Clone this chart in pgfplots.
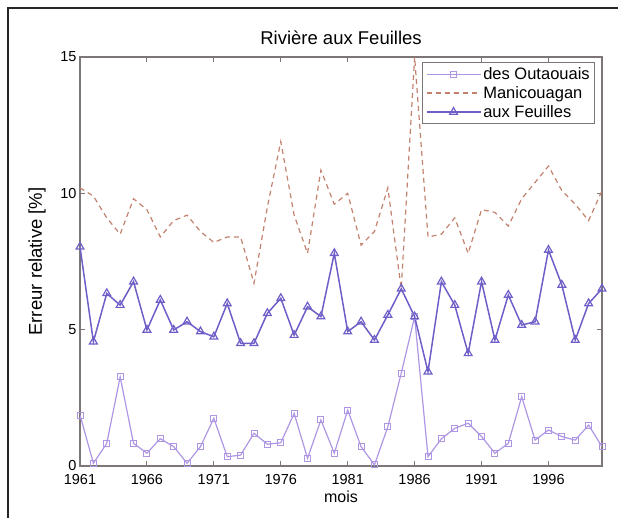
\documentclass[border=0pt]{standalone}
\usepackage{pgfplots}
\pgfplotsset{compat=1.18}
\usepackage{fontspec}
\setmainfont{Liberation Sans}
\definecolor{outa}{RGB}{175,150,228}
\definecolor{mani}{RGB}{195,130,110}
\definecolor{feui}{RGB}{110,95,200}
\definecolor{axgray}{RGB}{125,118,118}
\begin{document}
\begin{tikzpicture}[x=1pt,y=1pt]
\useasboundingbox (0,0) rectangle (618,518);
\draw[line width=1.5pt, black!85] (8,0) -- (8,510) -- (618,510);
\begin{axis}[
  at={(80pt,52pt)}, anchor=south west,
  scale only axis, width=522pt, height=409pt,
  xmin=1961, xmax=2000, ymin=0, ymax=15,
  xtick={1961,1966,...,1996}, ytick={0,5,10,15},
  x tick label style={/pgf/number format/1000 sep={}, yshift=-5pt},
  tick align=inside, major tick length=5pt,
  axis line style={axgray, line width=1.6pt},
  tick style={axgray, line width=1pt},
  font=\fontsize{14.5}{17}\selectfont,
  /pgf/number format/assume math mode=true,
  title={Rivière aux Feuilles},
  title style={at={(0.5,1)}, anchor=south, yshift=3pt, font=\fontsize{18.5}{21}\selectfont},
  xlabel={mois}, ylabel={Erreur relative [\%]},
  xlabel style={at={(axis description cs:0.5,-0.075)}, anchor=center, font=\fontsize{16}{19}\selectfont},
  ylabel style={at={(axis description cs:-0.082,0.5)}, anchor=center, font=\fontsize{18.5}{21}\selectfont},
  legend style={at={(0.987,0.988)}, anchor=north east, draw=axgray, line width=1pt,
    font=\fontsize{16.5}{19}\selectfont, inner sep=3pt, row sep=1.5pt},
  legend cell align=left,
  legend image code/.code={\draw[mark repeat=2,mark phase=2,#1] plot coordinates {(0pt,0pt) (27pt,0pt) (54pt,0pt)};},
]
\addplot[color=outa, line width=1.2pt, mark=square, mark size=3pt, mark options={solid, line width=1pt}] coordinates {
(1961,1.87)(1962,0.1)(1963,0.83)(1964,3.27)(1965,0.83)(1966,0.47)(1967,1.0)(1968,0.71)(1969,0.1)(1970,0.71)
(1971,1.75)(1972,0.34)(1973,0.4)(1974,1.2)(1975,0.8)(1976,0.85)(1977,1.93)(1978,0.28)(1979,1.69)(1980,0.47)
(1981,2.05)(1982,0.71)(1983,0.04)(1984,1.44)(1985,3.4)(1986,5.47)(1987,0.34)(1988,1.0)(1989,1.38)(1990,1.57)
(1991,1.08)(1992,0.47)(1993,0.83)(1994,2.54)(1995,0.95)(1996,1.32)(1997,1.08)(1998,0.95)(1999,1.5)(2000,0.71)};
\addlegendentry{des Outaouais}
\addplot[color=mani, line width=1.2pt, dashed, dash pattern=on 5pt off 4pt] coordinates {
(1961,10.2)(1962,9.9)(1963,9.1)(1964,8.5)(1965,9.8)(1966,9.4)(1967,8.4)(1968,9.0)(1969,9.2)(1970,8.6)
(1971,8.2)(1972,8.4)(1973,8.4)(1974,6.7)(1975,9.5)(1976,11.9)(1977,9.2)(1978,7.8)(1979,10.85)(1980,9.6)
(1981,10.0)(1982,8.1)(1983,8.6)(1984,10.2)(1985,6.5)(1986,15.0)(1987,8.4)(1988,8.5)(1989,9.1)(1990,7.8)
(1991,9.4)(1992,9.3)(1993,8.8)(1994,9.8)(1995,10.4)(1996,11.0)(1997,10.1)(1998,9.6)(1999,9.0)(2000,10.1)};
\addlegendentry{Manicouagan}
\addplot[color=feui, line width=1.5pt, mark=triangle, mark size=4.5pt, mark options={solid, line width=1.2pt}] coordinates {
(1961,8.04)(1962,4.56)(1963,6.33)(1964,5.9)(1965,6.76)(1966,4.99)(1967,6.09)(1968,4.99)(1969,5.29)(1970,4.93)
(1971,4.74)(1972,5.96)(1973,4.5)(1974,4.5)(1975,5.6)(1976,6.15)(1977,4.8)(1978,5.84)(1979,5.48)(1980,7.8)
(1981,4.93)(1982,5.29)(1983,4.62)(1984,5.54)(1985,6.5)(1986,5.48)(1987,3.46)(1988,6.76)(1989,5.9)(1990,4.13)
(1991,6.76)(1992,4.62)(1993,6.27)(1994,5.17)(1995,5.29)(1996,7.92)(1997,6.64)(1998,4.62)(1999,5.96)(2000,6.5)};
\addlegendentry{aux Feuilles}
\end{axis}
\end{tikzpicture}
\end{document}
